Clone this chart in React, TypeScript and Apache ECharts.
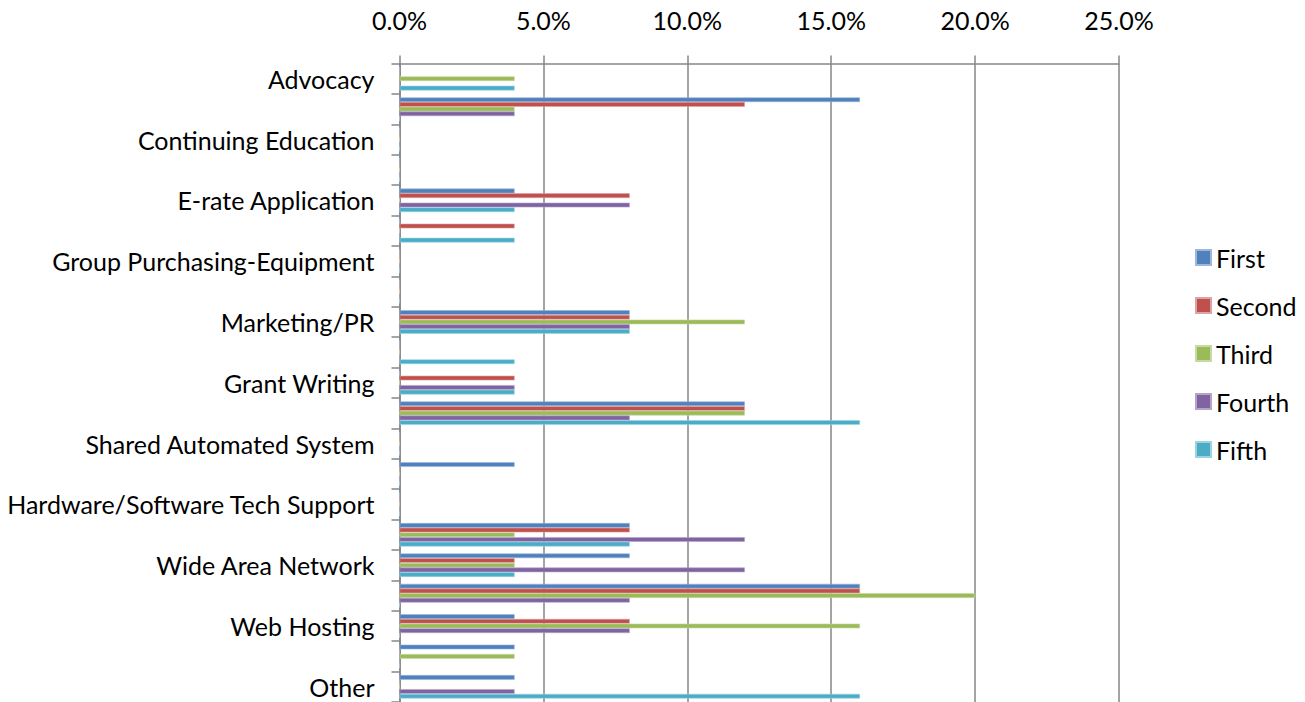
import React, { useEffect, useRef } from "react";
import * as echarts from "echarts";

const categories = [
  "Advocacy",
  "Cataloging",
  "Continuing Education",
  "Delivery",
  "E-rate Application",
  "Group Purchasing-Databases",
  "Group Purchasing-Equipment",
  "Interlibrary Loan",
  "Marketing/PR",
  "Consulting",
  "Grant Writing",
  "Resource Sharing",
  "Shared Automated System",
  "Technology Planning",
  "Hardware/Software Tech Support",
  "Training",
  "Wide Area Network",
  "Internet Access",
  "Web Hosting",
  "Website Design",
  "Other",
];

const seriesNames = ["First", "Second", "Third", "Fourth", "Fifth"];

const first = [0, 16, 0, 0, 4, 0, 0, 0, 8, 0, 0, 12, 0, 4, 0, 8, 8, 16, 4, 4, 4];
const second = [0, 12, 0, 0, 8, 4, 0, 0, 8, 0, 4, 12, 0, 0, 0, 8, 4, 16, 8, 0, 0];
const third = [4, 4, 0, 0, 0, 0, 0, 0, 12, 0, 0, 12, 0, 0, 0, 4, 4, 20, 16, 4, 0];
const fourth = [0, 4, 0, 0, 8, 0, 0, 0, 8, 0, 4, 8, 0, 0, 0, 12, 12, 8, 8, 0, 4];
const fifth = [4, 0, 0, 0, 4, 4, 0, 0, 8, 4, 4, 16, 0, 0, 0, 8, 4, 0, 0, 0, 16];

const colors = ["#4F81BD", "#C0504D", "#9BBB59", "#8064A2", "#4BACC6"];
const borders = ["#9DB6DA", "#DDA3A1", "#C7D9A6", "#B4A4C8", "#9DD2E0"];

const FONT = "Lato, 'Open Sans', sans-serif";
const FS = 25;

export default function App() {
  const ref = useRef<HTMLDivElement>(null);

  useEffect(() => {
    document.body.style.margin = "0";
    if (!ref.current) return;
    const chart = echarts.init(ref.current, undefined, { renderer: "svg" });
    const values = [first, second, third, fourth, fifth];
    chart.setOption({
      animation: false,
      backgroundColor: "#ffffff",
      color: colors,
      grid: { left: 399.5, right: 186, top: 63.5, bottom: 0, containLabel: false },
      legend: {
        orient: "vertical",
        left: 1190,
        top: 240,
        itemWidth: 15,
        itemHeight: 15,
        itemGap: 23,
        icon: "rect",
        textStyle: { fontFamily: FONT, fontSize: FS, color: "#000", lineHeight: 24 },
        data: seriesNames,
      },
      xAxis: {
        type: "value",
        position: "top",
        min: 0,
        max: 25,
        interval: 5,
        axisLine: { show: true, lineStyle: { color: "#868686", width: 1.5 } },
        axisTick: { show: true, length: 8, lineStyle: { color: "#868686", width: 1.5 } },
        splitLine: { show: true, lineStyle: { color: "#868686", width: 1.5 } },
        axisLabel: {
          fontFamily: FONT,
          fontSize: FS,
          color: "#000",
          margin: 31,
          formatter: (v: number) => v.toFixed(1) + "%",
        },
      },
      yAxis: {
        type: "category",
        inverse: true,
        data: categories,
        axisLine: { show: true, lineStyle: { color: "#868686", width: 1.5 } },
        axisTick: { show: true, length: 8, interval: 0, lineStyle: { color: "#868686", width: 1.5 } },
        axisLabel: {
          interval: 1,
          fontFamily: FONT,
          fontSize: FS,
          color: "#000",
          margin: 25,
          padding: [0, 0, 5, 0],
        },
        splitLine: { show: false },
      },
      series: seriesNames.map((name, i) => ({
        name,
        type: "bar",
        data: values[i],
        barWidth: 4.7,
        barGap: "0%",
        itemStyle: { color: colors[i], borderColor: borders[i], borderWidth: 0.6 },
      })),
    });
    return () => chart.dispose();
  }, []);

  return <div ref={ref} style={{ width: 1305, height: 702 }} />;
}
